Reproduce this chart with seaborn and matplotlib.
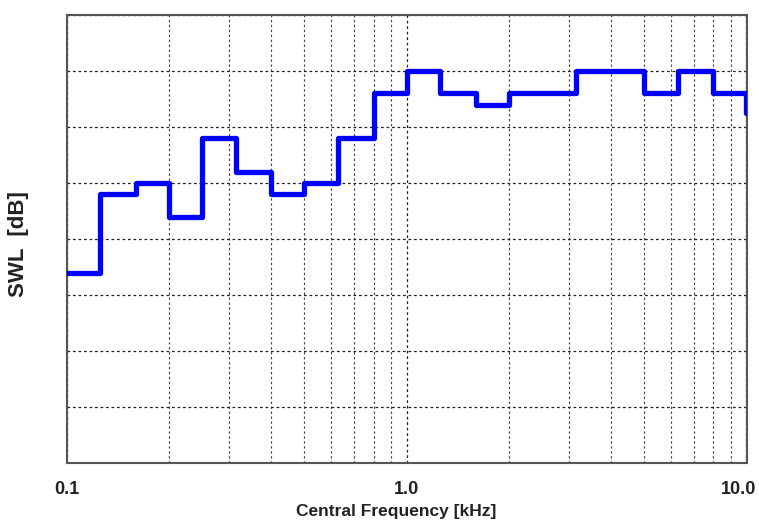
import matplotlib
matplotlib.use("Agg")
import matplotlib.pyplot as plt
import matplotlib.transforms as mtransforms
import seaborn as sns
import numpy as np
import pandas as pd
from matplotlib.ticker import FixedLocator, NullFormatter, FixedFormatter

# Third-octave band centre frequencies (kHz) and sound power level (dB)
freq_khz = [0.1, 0.125, 0.16, 0.2, 0.25, 0.315, 0.4, 0.5, 0.63, 0.8,
            1.0, 1.25, 1.6, 2.0, 2.5, 3.15, 4.0, 5.0, 6.3, 8.0, 10.0]
swl_db = [54, 68, 70, 64, 78, 72, 68, 70, 78, 86,
          90, 86, 84, 86, 86, 90, 90, 86, 90, 86, 82.5]
x_tick_values = [0.1, 1.0, 10.0]
x_tick_labels = ["0.1", "1.0", "10.0"]
y_tick_values = [20, 30, 40, 50, 60, 70, 80, 90, 100]

df = pd.DataFrame({"freq": freq_khz, "swl": swl_db})

sns.set_style("white")
plt.rcParams["font.family"] = ["Liberation Sans", "DejaVu Sans"]

fig = plt.figure(figsize=(7.59, 5.23), dpi=100)
ax = fig.add_axes([67 / 759, 1 - 463 / 523, (747 - 67) / 759, (463 - 15) / 523])

sns.lineplot(data=df, x="freq", y="swl", ax=ax, color="#0000ff",
             linewidth=3.8, drawstyle="steps-post", sort=False,
             estimator=None, zorder=5)

ax.set_xscale("log")
ax.set_xlim(0.1, 10.05)
ax.set_ylim(20, 100)

minor = [m * d for d in (0.1, 1.0) for m in range(2, 10)]
ax.xaxis.set_major_locator(FixedLocator(x_tick_values))
ax.xaxis.set_major_formatter(FixedFormatter(x_tick_labels))
ax.xaxis.set_minor_locator(FixedLocator(minor))
ax.xaxis.set_minor_formatter(NullFormatter())
ax.yaxis.set_major_locator(FixedLocator(y_tick_values))
ax.yaxis.set_major_formatter(NullFormatter())

grid_kw = dict(color="#222222", linestyle=(0, (2.2, 2.2)), linewidth=0.9)
ax.grid(True, which="major", axis="both", **grid_kw)
ax.grid(True, which="minor", axis="x", color="#444444",
        linestyle=(0, (2.0, 2.2)), linewidth=0.85)
ax.set_axisbelow(True)

ax.tick_params(axis="both", which="both", length=0)
ax.tick_params(axis="x", which="major", pad=13, labelsize=13,
               labelcolor="#222222")
fig.canvas.draw()
labels = ax.get_xticklabels()
for lab in labels:
    lab.set_fontweight("bold")
shift = mtransforms.ScaledTranslation(-8 / 100, 0, fig.dpi_scale_trans)
labels[-1].set_transform(labels[-1].get_transform() + shift)

for sp in ax.spines.values():
    sp.set_visible(True)
    sp.set_color("#555555")
    sp.set_linewidth(1.5)

ax.set_xlabel("Central Frequency [kHz]", fontsize=12.5, fontweight="bold",
              color="#222222")
ax.set_ylabel("SWL  [dB]", fontsize=16, fontweight="bold", color="#222222")
ax.xaxis.set_label_coords((396 - 67) / 680, -(504 - 463) / 448)
ax.yaxis.set_label_coords(-(67 - 29) / 680, (463 - 244) / 448)

fig.savefig("out.png", dpi=100)
